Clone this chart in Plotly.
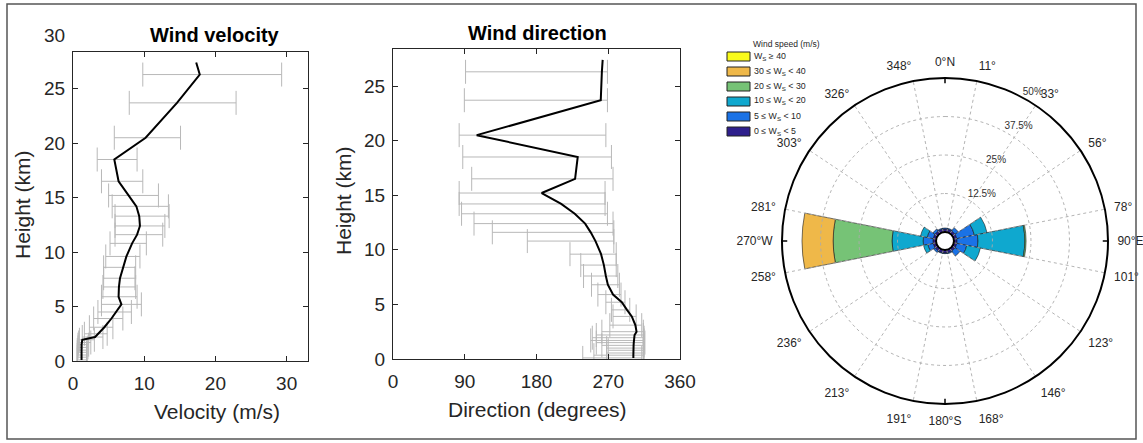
import plotly.graph_objects as go

# ---------------- data ----------------
heights = [27.4, 26.3, 23.7, 20.5, 18.5, 16.5, 15.2, 14.2, 13.3, 12.4, 11.6, 10.8, 9.6, 8.6,
           7.6, 6.8, 5.9, 5.2, 4.5, 3.9, 3.1, 2.5, 2.2, 1.95, 1.7, 1.5, 1.25, 1.0, 0.8, 0.55, 0.35, 0.1]

vel_mean = [17.3, 17.8, 14.6, 10.2, 5.8, 6.4, 7.8, 8.9, 9.3, 9.4, 9.0, 8.3, 7.5, 7.0,
            6.6, 6.45, 6.4, 6.8, 6.1, 5.4, 4.4, 3.6, 3.1, 1.3, 1.2, 1.2, 1.2, 1.2, 1.2, 1.2, 1.2, 1.2]
vel_lo = [None, 9.8, 7.9, 5.8, 3.4, 4.0, 5.0, 5.5, 5.9, 5.9, 5.9, 5.2, 4.6, 4.3,
          4.3, 4.2, 4.0, 4.0, 3.5, 2.9, 2.3, 1.6, 1.3, 0.9, 0.8, 0.7, 0.7, 0.6, 0.6, 0.6, 0.6, 0.6]
vel_hi = [None, 29.3, 22.9, 15.1, 9.0, 9.8, 12.0, 13.4, 13.5, 12.9, 12.6, 10.3, 9.4, 8.8,
          8.7, 8.8, 9.0, 9.6, 8.2, 7.0, 5.6, 4.8, 4.2, 3.0, 2.5, 2.2, 2.1, 2.0, 1.9, 1.9, 1.9, 1.9]

dir_mean = [263, 262, 260.6, 105, 231.7, 228.4, 186.5, 211, 228, 241, 248, 254, 261, 264.5,
            267, 269.5, 276, 287, 293.5, 299.5, 304, 305.5, 303, 302.4, 302, 302, 301.8, 301.5,
            301.5, 301.5, 301.5, 301.5]
dir_lo = [None, 91, 89.5, 83, 87.5, 98.7, 83, 83, 86, 101.6, 124.6, 168.5, 222, 235.5,
          239, 249, 257, 267, 274, 276, 272, 262, 255, 250, 248, 255, 262, 268, 270, 268, 252, 238]
dir_hi = [None, 269, 269, 267, 274, 276, 266, 266, 269, 276, 277, 277, 280, 280,
          282, 284, 286, 291, 297, 305, 312, 314, 314, 315, 315, 316, 315, 314, 314, 315, 314, 312]

# wind rose: sector centres (deg, clockwise from N) and frequency (%) per speed bin
sectors = [0, 22.5, 45, 67.5, 90, 112.5, 135, 157.5, 180, 202.5, 225, 247.5, 270, 292.5, 315, 337.5]
ws_0_5 = [1.0, 1.0, 1.0, 1.0, 1.0, 1.0, 1.0, 1.0, 1.0, 1.0, 1.0, 1.0, 1.0, 1.0, 1.0, 1.0]
ws_5_10 = [0.3, 0.3, 1.3, 5.8, 6.8, 3.3, 2.0, 0.3, 0.2, 0.2, 0.6, 1.8, 3.2, 2.0, 0.8, 0.3]
ws_10_20 = [0, 0, 0, 4.2, 15.2, 4.5, 0, 0, 0, 0, 0, 1.4, 10.1, 2.2, 0, 0]
ws_20_30 = [0, 0, 0, 0, 0.4, 0, 0, 0, 0, 0, 0, 0, 19.1, 0, 0, 0]
ws_30_40 = [0, 0, 0, 0, 0, 0, 0, 0, 0, 0, 0, 0, 10.1, 0, 0, 0]
ws_40 = [0] * 16

bins = [ws_0_5, ws_5_10, ws_10_20, ws_20_30, ws_30_40, ws_40]
bin_colors = ["#2E1F8C", "#1A72E6", "#0FA8CF", "#76C376", "#EFB849", "#F9FB1A"]
bin_labels = ["0 ≤ W<sub>S</sub> &lt; 5", "5 ≤ W<sub>S</sub> &lt; 10", "10 ≤ W<sub>S</sub> &lt; 20",
              "20 ≤ W<sub>S</sub> &lt; 30", "30 ≤ W<sub>S</sub> &lt; 40", "W<sub>S</sub> ≥ 40"]

angle_ticks = [0, 11.25, 33.75, 56.25, 78.75, 90, 101.25, 123.75, 146.25, 168.75, 180,
               191.25, 213.75, 236.25, 258.75, 270, 281.25, 303.75, 326.25, 348.75]
angle_labels = ["0°N", "11°", "33°", "56°", "78°", "90°E", "101°", "123°", "146°", "168°", "180°S",
                "191°", "213°", "236°", "258°", "270°W", "281°", "303°", "326°", "348°"]
radial_ticks = [12.5, 25, 37.5, 50]
radial_labels = ["12.5%", "25%", "37.5%", "50%"]

# ---------------- helpers ----------------
W, H = 1143, 443
FONT = "Liberation Sans, Arial, sans-serif"
TXT = "#262626"


def px(x):
    return x / W


def py(y):
    return 1 - y / H


fig = go.Figure()


def add_profile(mean, lo, hi, xa, ya):
    idx = [i for i in range(len(heights)) if lo[i] is not None]
    fig.add_trace(go.Scatter(
        x=[(lo[i] + hi[i]) / 2 for i in idx], y=[heights[i] for i in idx],
        mode="markers", marker=dict(size=1, color="rgba(0,0,0,0)"),
        error_x=dict(type="data", symmetric=True, array=[(hi[i] - lo[i]) / 2 for i in idx],
                     color="#b8b8b8", thickness=1, width=12),
        xaxis=xa, yaxis=ya, hoverinfo="skip"))
    fig.add_trace(go.Scatter(x=mean, y=heights, mode="lines",
                             line=dict(color="black", width=2), xaxis=xa, yaxis=ya))


add_profile(vel_mean, vel_lo, vel_hi, "x", "y")
add_profile(dir_mean, dir_lo, dir_hi, "x2", "y2")

# wind rose bars (stacked outward)
for vals, col in zip(bins, bin_colors):
    fig.add_trace(go.Barpolar(
        r=[v if v > 0 else None for v in vals], theta=sectors, width=[22.5] * len(sectors),
        marker=dict(color=col, line=dict(color="#1a1a1a", width=0.6)), subplot="polar"))

# rose grid drawn over the bars (dotted)
edges = [s + 11.25 for s in sectors]
gr, gt = [], []
for e in edges:
    gr += [0, 50, None]
    gt += [e, e, None]
for rv in radial_ticks[:-1]:
    th = [k * 3 for k in range(121)]
    gr += [rv] * len(th) + [None]
    gt += th + [None]
fig.add_trace(go.Scatterpolar(r=gr, theta=gt, mode="lines", subplot="polar",
                              line=dict(color="#ababab", width=0.9, dash="dot"), hoverinfo="skip"))
# cardinal ticks
cr, ct = [], []
for c in [0, 90, 180, 270]:
    cr += [48.3, 51.2, None]
    ct += [c, c, None]
fig.add_trace(go.Scatterpolar(r=cr, theta=ct, mode="lines", subplot="polar", cliponaxis=False,
                              line=dict(color="black", width=1.5), hoverinfo="skip"))
# radial percentage labels
fig.add_trace(go.Scatterpolar(r=radial_ticks, theta=[28.5] * len(radial_ticks), mode="text",
                              text=radial_labels, textposition="top right", cliponaxis=False,
                              textfont=dict(size=10, color="#333", family=FONT), subplot="polar"))

axis_common = dict(showline=True, linecolor="#262626", linewidth=1, mirror="ticks",
                   ticks="inside", ticklen=5, tickcolor="#262626", showgrid=False, zeroline=False,
                   automargin=False, tickfont=dict(size=19, color=TXT, family=FONT))

fig.update_layout(
    template="none",
    width=W, height=H, margin=dict(l=0, r=0, t=0, b=0, pad=0), autosize=False,
    paper_bgcolor="white", plot_bgcolor="white", showlegend=False,
    font=dict(family=FONT, color=TXT),
    xaxis=dict(domain=[px(73), px(308)], range=[0, 33], tickvals=[0, 10, 20, 30],
               anchor="y", ticklabelstandoff=5, **axis_common),
    yaxis=dict(domain=[py(361), py(52)], range=[0, 28.37], tickvals=[0, 5, 10, 15, 20, 25],
               anchor="x", ticklabelstandoff=3, **axis_common),
    xaxis2=dict(domain=[px(393), px(680)], range=[0, 360], tickvals=[0, 90, 180, 270, 360],
                anchor="y2", ticklabelstandoff=5, **axis_common),
    yaxis2=dict(domain=[py(359), py(49)], range=[0, 28.39], tickvals=[0, 5, 10, 15, 20, 25],
                anchor="x2", ticklabelstandoff=3, **axis_common),
    polar=dict(
        domain=dict(x=[px(945 - 163), px(945 + 163)], y=[py(241 + 163), py(241 - 163)]),
        hole=0.055, bgcolor="white", barmode="stack",
        angularaxis=dict(rotation=90, direction="clockwise", tickvals=angle_ticks,
                         ticktext=angle_labels, showgrid=False, showline=True,
                         linecolor="black", linewidth=2, ticks="outside", ticklen=6,
                         tickcolor="rgba(0,0,0,0)",
                         tickfont=dict(size=12, color=TXT, family=FONT)),
        radialaxis=dict(range=[0, 50], showgrid=False, showline=False,
                        showticklabels=False, ticks=""),
    ),
)


def note(text, x, y, size, color=TXT, xanchor="center", **kw):
    return dict(text=text, x=x, y=y, xref="paper", yref="paper", xanchor=xanchor,
                yanchor="middle", showarrow=False, font=dict(size=size, color=color), **kw)


ann = [
    note("<b>Wind velocity</b>", px(215), py(35), 20, "black"),
    note("<b>Wind direction</b>", px(537), py(33), 20, "black"),
    note("30", px(67), py(35), 19, xanchor="right"),
    note("Velocity (m/s)", px(217), py(411), 21),
    note("Direction (degrees)", px(537), py(409), 21),
    note("Height (km)", px(22), py(205), 21, textangle=-90),
    note("Height (km)", px(343), py(201), 21, textangle=-90),
    note("Wind speed (m/s)", px(751), py(44), 8.5, xanchor="left"),
]

shapes = [dict(type="rect", xref="paper", yref="paper", x0=px(7), x1=px(1136), y0=py(439),
               y1=py(4), line=dict(color="#555", width=1.5))]
for i, (lab, col) in enumerate(zip(bin_labels[::-1], bin_colors[::-1])):
    yc = 56.5 + 15 * i
    shapes.append(dict(type="rect", xref="paper", yref="paper", x0=px(727), x1=px(750),
                       y0=py(yc + 4.5), y1=py(yc - 4.5), fillcolor=col,
                       line=dict(color="#222", width=1)))
    ann.append(note(lab, px(752), py(yc - 0.5), 8.8, xanchor="left"))

fig.update_layout(annotations=ann, shapes=shapes)
fig.write_html("out.html", config={"displayModeBar": False},
               post_script="document.body.style.margin='0';")
